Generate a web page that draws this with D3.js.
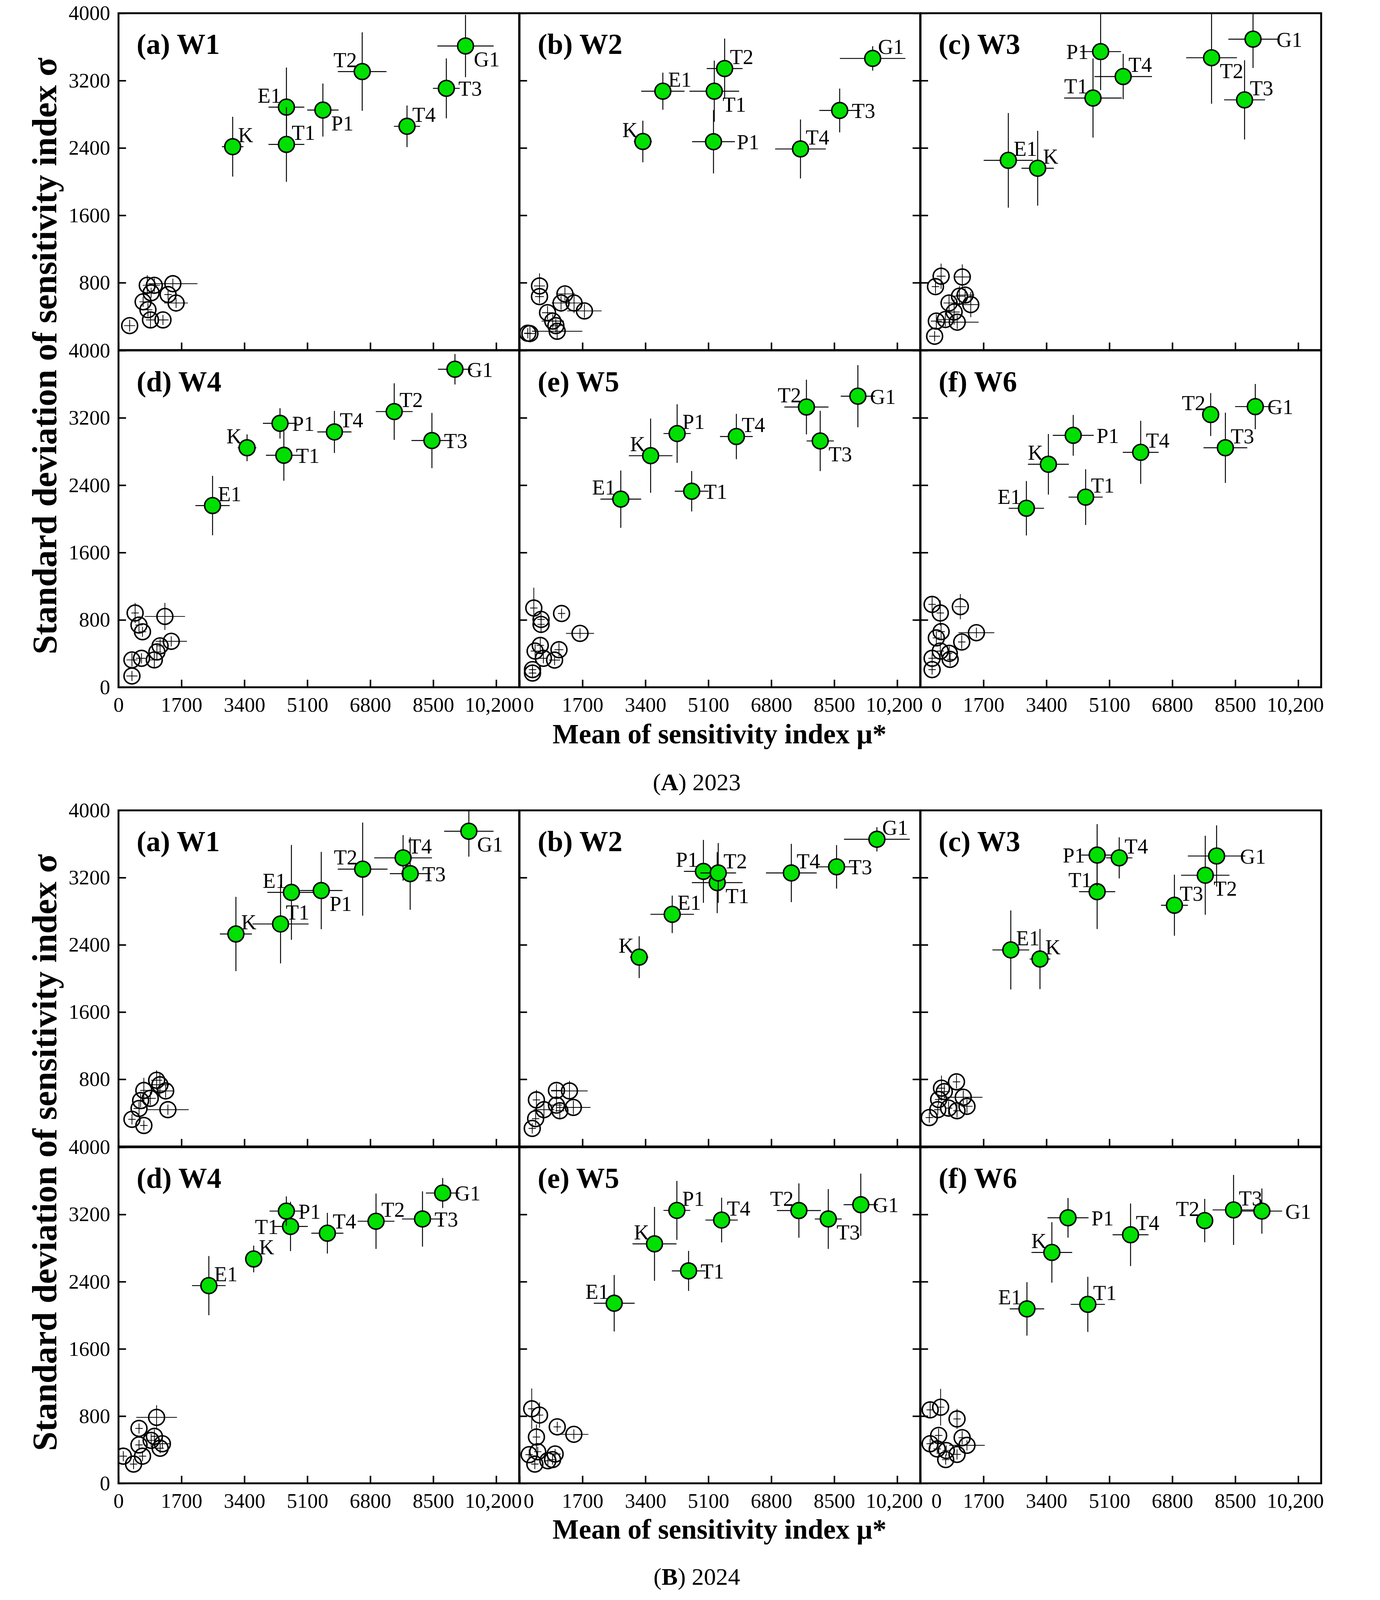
<!DOCTYPE html>
<html>
<head>
<meta charset="utf-8">
<script src="https://cdn.jsdelivr.net/npm/d3@7"></script>
<style>
  html, body { margin: 0; padding: 0; background: #fff; overflow: hidden; }
  svg { display: block; }
  text { font-family: "Liberation Serif", "Times New Roman", serif; }
</style>
</head>
<body>
<div id="chart"></div>
<script>
// factor names, same order in every panel
const factors = ['K', 'E1', 'T1', 'P1', 'T2', 'T3', 'T4', 'G1'];

const xTicks = [0, 1700, 3400, 5100, 6800, 8500, 10200];
const xTickLabels = ['0', '1700', '3400', '5100', '6800', '8500', '10,200'];
const yTicks = [0, 800, 1600, 2400, 3200, 4000];

// [mu*, sigma, mu* error, sigma error] per factor (order of `factors`)
// ---- 2023 ----
const W1_2023 = [[3084, 2415, 290, 355], [4535, 2885, 484, 470], [4535, 2442, 484, 444], [5520, 2850, 423, 315],
                 [6582, 3307, 656, 466], [8854, 3108, 363, 356], [7792, 2657, 354, 247], [9372, 3611, 760, 370]];
const W2_2023 = [[3331, 2477, 245, 247], [3871, 3074, 585, 220], [5260, 3074, 670, 363], [5239, 2474, 578, 376],
                 [5540, 3343, 484, 356], [8647, 2845, 550, 260], [7588, 2388, 684, 350], [9538, 3463, 885, 145]];
const W3_2023 = [[3164, 2159, 438, 444], [2371, 2253, 665, 562], [4658, 2993, 780, 470], [4864, 3544, 550, 457],
                 [7860, 3471, 686, 546], [8751, 2971, 553, 470], [5473, 3248, 777, 269], [8980, 3692, 667, 342]];
const W4_2023 = [[3472, 2844, 250, 159], [2540, 2158, 462, 353], [4466, 2755, 484, 302], [4362, 3134, 462, 180],
                 [7446, 3274, 497, 336], [8465, 2930, 553, 328], [5831, 3032, 462, 250], [9087, 3777, 458, 181]];
const W5_2023 = [[3541, 2750, 589, 441], [2735, 2234, 550, 340], [4650, 2328, 456, 240], [4257, 3013, 368, 348],
                 [7749, 3328, 596, 325], [8121, 2925, 368, 358], [5856, 2978, 442, 269], [9138, 3457, 463, 369]];
const W6_2023 = [[3453, 2648, 553, 360], [2859, 2126, 476, 323], [4459, 2258, 461, 331], [4124, 2992, 553, 242],
                 [7836, 3239, 198, 255], [8233, 2844, 591, 417], [5946, 2790, 484, 374], [9041, 3333, 545, 269]];

// ---- 2024 ----
const W1_2024 = [[3171, 2529, 433, 442], [4670, 3024, 650, 564], [4376, 2648, 758, 469], [5476, 3046, 572, 460],
                 [6594, 3301, 672, 554], [7877, 3247, 550, 430], [7686, 3435, 780, 271], [9462, 3752, 667, 302]];
const W2_2024 = [[3232, 2253, 246, 249], [4124, 2763, 587, 223], [5339, 3140, 685, 363], [4967, 3274, 527, 374],
                 [5367, 3255, 481, 356], [8563, 3328, 545, 259], [7341, 3255, 685, 347], [9652, 3656, 888, 145]];
const W3_2024 = [[3226, 2231, 279, 358], [2438, 2339, 497, 470], [4770, 3032, 489, 444], [4770, 3468, 432, 368],
                 [7690, 3228, 654, 470], [6857, 2871, 363, 363], [5366, 3435, 355, 245], [7996, 3457, 776, 364]];
const W4_2024 = [[3651, 2670, 225, 159], [2440, 2353, 454, 352], [4646, 3057, 467, 293], [4533, 3240, 454, 175],
                 [6955, 3119, 497, 329], [8210, 3146, 554, 329], [5641, 2977, 433, 242], [8755, 3455, 454, 179]];
const W5_2024 = [[3646, 2850, 594, 440], [2557, 2143, 552, 336], [4566, 2528, 453, 238], [4250, 3248, 362, 350],
                 [7545, 3246, 594, 323], [8339, 3146, 365, 356], [5458, 3133, 436, 266], [9217, 3316, 464, 370]];
const W6_2024 = [[3547, 2748, 550, 360], [2874, 2076, 466, 318], [4518, 2130, 462, 328], [3983, 3160, 554, 236],
                 [7675, 3127, 222, 258], [8454, 3254, 566, 417], [5672, 2958, 485, 372], [9219, 3240, 547, 269]];

// non-influential parameters (open circles): [mu*, sigma, mu* error, sigma error]
const W1_2023_other = [[302, 290, 150, 70], [777, 769, 120, 120], [967, 769, 150, 80], [1468, 788, 665, 60],
  [1339, 659, 100, 60], [665, 573, 100, 60], [1555, 559, 320, 60], [795, 479, 120, 80], [864, 358, 120, 100],
  [1201, 358, 150, 60], [881, 680, 100, 60]];
const W2_2023_other = [[540, 761, 150, 150], [540, 635, 120, 80], [1227, 667, 200, 80], [1122, 559, 250, 80],
  [1473, 559, 200, 120], [1753, 465, 465, 80], [757, 444, 150, 80], [898, 344, 300, 80], [982, 290, 150, 80],
  [1017, 223, 680, 100], [281, 196, 150, 100], [224, 200, 100, 60]];
const W3_2023_other = [[556, 877, 120, 150], [1128, 868, 200, 150], [404, 753, 100, 80], [1204, 653, 250, 80],
  [1052, 640, 150, 120], [770, 559, 150, 100], [1357, 540, 200, 150], [907, 452, 150, 150], [671, 363, 200, 80],
  [427, 344, 150, 80], [991, 331, 580, 80], [381, 164, 150, 60]];
const W4_2023_other = [[449, 882, 100, 120], [1253, 841, 544, 161], [553, 739, 100, 80], [648, 659, 100, 60],
  [1425, 546, 423, 60], [1123, 492, 100, 80], [1037, 419, 120, 100], [967, 325, 150, 100], [622, 344, 150, 60],
  [363, 325, 150, 80], [363, 134, 150, 60]];
const W5_2023_other = [[386, 941, 100, 242], [1136, 876, 100, 60], [582, 806, 100, 80], [582, 747, 100, 100],
  [1634, 640, 379, 60], [561, 497, 100, 100], [1066, 446, 120, 80], [421, 430, 120, 80], [645, 344, 120, 60],
  [947, 323, 150, 60], [351, 210, 100, 60], [351, 169, 100, 60]];
const W6_2023_other = [[313, 984, 100, 100], [1075, 957, 150, 150], [534, 882, 100, 150], [556, 661, 100, 100],
  [1509, 648, 484, 60], [427, 586, 100, 80], [1113, 538, 100, 80], [534, 430, 100, 80], [777, 403, 80, 80],
  [800, 331, 80, 80], [313, 344, 100, 60], [313, 210, 100, 60]];

const W1_2024_other = [[1031, 788, 150, 120], [685, 667, 100, 150], [1274, 661, 200, 80], [858, 573, 150, 80],
  [598, 546, 100, 80], [555, 452, 150, 80], [1334, 438, 563, 60], [364, 323, 100, 60], [685, 250, 100, 60],
  [1118, 734, 250, 150]];
const W2_2024_other = [[998, 667, 150, 80], [1349, 661, 492, 120], [457, 554, 100, 120], [660, 438, 280, 80],
  [998, 492, 150, 80], [1089, 425, 120, 100], [1454, 465, 464, 80], [436, 331, 100, 80], [344, 215, 100, 60]];
const W3_2024_other = [[971, 769, 100, 80], [566, 694, 100, 150], [642, 653, 150, 80], [1154, 586, 520, 80],
  [489, 559, 100, 60], [757, 457, 100, 80], [1254, 478, 150, 80], [986, 425, 100, 80], [466, 438, 100, 60],
  [237, 344, 100, 60]];
const W4_2024_other = [[1029, 785, 550, 145], [554, 653, 100, 60], [554, 457, 100, 60], [969, 559, 100, 80],
  [882, 511, 100, 80], [1185, 471, 225, 60], [1125, 417, 100, 60], [649, 323, 100, 60], [130, 323, 100, 60],
  [407, 229, 100, 60]];
const W5_2024_other = [[330, 887, 100, 242], [541, 812, 100, 150], [1019, 672, 100, 60], [1468, 583, 393, 60],
  [457, 551, 100, 150], [492, 376, 100, 60], [260, 341, 100, 60], [962, 349, 150, 60], [766, 269, 100, 60],
  [414, 229, 100, 60], [892, 282, 100, 60]];
const W6_2024_other = [[260, 874, 100, 100], [543, 906, 100, 218], [986, 766, 100, 120], [489, 570, 100, 80],
  [1124, 543, 100, 80], [260, 471, 100, 60], [451, 409, 100, 60], [1254, 452, 480, 60], [696, 390, 100, 60],
  [986, 344, 100, 60], [680, 282, 100, 60]];

// which side of the marker each factor label sits on (order of `factors`)
const W1_2023_lab = ['ne', 'nw', 'ne', 'se', 'nw', 'e', 'ne', 'se'];
const W2_2023_lab = ['nw', 'ne', 'se', 'ee', 'ne', 'e', 'ne', 'ne'];
const W3_2023_lab = ['ne', 'ne', 'nw', 'w', 'se', 'ne', 'ne', 'ee'];
const W4_2023_lab = ['nw', 'ne', 'e', 'e', 'ne', 'e', 'ne', 'e'];
const W5_2023_lab = ['nw', 'nw', 'e', 'ne', 'nw', 'se', 'ne', 'e'];
const W6_2023_lab = ['nw', 'nw', 'ne', 'ee', 'nw', 'ne', 'ne', 'e'];
const W1_2024_lab = ['ne', 'nw', 'ne', 'se', 'nw', 'e', 'ne', 'se'];
const W2_2024_lab = ['nw', 'ne', 'se', 'nw', 'ne', 'e', 'ne', 'ne'];
const W3_2024_lab = ['ne', 'ne', 'nw', 'w', 'se', 'ne', 'ne', 'ee'];
const W4_2024_lab = ['ne', 'ne', 'w', 'e', 'ne', 'e', 'ne', 'e'];
const W5_2024_lab = ['nw', 'nw', 'e', 'ne', 'nw', 'se', 'ne', 'e'];
const W6_2024_lab = ['nw', 'nw', 'ne', 'ee', 'nw', 'ne', 'ne', 'ee'];

// ---------------------------------------------------------------------------
const W = 3533, H = 4237;
const colX = [253, 1315, 2377];
const panelW = 1061;
const xMax = 10820, yMax = 4000;
const green = '#00e000';
const serif = '"Liberation Serif", "Times New Roman", serif';

const labelOffset = {
    ne: [14, -12, 'start'], nw: [-14, -12, 'end'], se: [22, 54, 'start'],
    e: [32, 20, 'start'], ee: [62, 20, 'start'], w: [-32, 20, 'end']
};

const figures = [
    {
        letter: 'A', year: '2023', rowY: [35, 928], ph: 892, xLabelY: 1969, captionY: 2093,
        panels: [
            { title: '(a) W1', main: W1_2023, other: W1_2023_other, lab: W1_2023_lab },
            { title: '(b) W2', main: W2_2023, other: W2_2023_other, lab: W2_2023_lab },
            { title: '(c) W3', main: W3_2023, other: W3_2023_other, lab: W3_2023_lab },
            { title: '(d) W4', main: W4_2023, other: W4_2023_other, lab: W4_2023_lab },
            { title: '(e) W5', main: W5_2023, other: W5_2023_other, lab: W5_2023_lab },
            { title: '(f) W6', main: W6_2023, other: W6_2023_other, lab: W6_2023_lab }
        ]
    },
    {
        letter: 'B', year: '2024', rowY: [2146, 3038], ph: 890, xLabelY: 4075, captionY: 4197,
        panels: [
            { title: '(a) W1', main: W1_2024, other: W1_2024_other, lab: W1_2024_lab },
            { title: '(b) W2', main: W2_2024, other: W2_2024_other, lab: W2_2024_lab },
            { title: '(c) W3', main: W3_2024, other: W3_2024_other, lab: W3_2024_lab },
            { title: '(d) W4', main: W4_2024, other: W4_2024_other, lab: W4_2024_lab },
            { title: '(e) W5', main: W5_2024, other: W5_2024_other, lab: W5_2024_lab },
            { title: '(f) W6', main: W6_2024, other: W6_2024_other, lab: W6_2024_lab }
        ]
    }
];

// the figure is laid out on a 3533 x 4237 canvas and fitted into the viewport
const svg = d3.select('#chart').append('svg')
    .attr('viewBox', `0 0 ${W} ${H}`)
    .attr('preserveAspectRatio', 'xMidYMid meet')
    .style('width', '100vw')
    .style('height', '100vh');

svg.append('rect').attr('width', W).attr('height', H).attr('fill', '#fff');

let clipId = 0;

function styleAxis(g) {
    g.select('.domain').remove();
    g.selectAll('.tick line').attr('stroke', '#000').attr('stroke-width', 4);
    g.selectAll('.tick text')
        .attr('fill', '#000')
        .style('font-family', serif)
        .style('font-size', '55px');
}

function errorBars(g, pts, x, y, width) {
    const bars = g.append('g')
        .attr('stroke', '#000')
        .attr('stroke-width', width);
    pts.forEach(p => {
        bars.append('line')
            .attr('x1', x(p[0] - p[2])).attr('x2', x(p[0] + p[2]))
            .attr('y1', y(p[1])).attr('y2', y(p[1]));
        bars.append('line')
            .attr('x1', x(p[0])).attr('x2', x(p[0]))
            .attr('y1', y(p[1] - p[3])).attr('y2', y(p[1] + p[3]));
    });
}

function drawPanel(spec, col, row, fig) {
    const x0 = colX[col];
    const y0 = fig.rowY[row];
    const ph = fig.ph;
    const x = d3.scaleLinear().domain([0, xMax]).range([x0, x0 + panelW]);
    const y = d3.scaleLinear().domain([0, yMax]).range([y0 + ph, y0]);

    const id = 'clip' + (clipId++);
    svg.append('clipPath').attr('id', id)
        .append('rect').attr('x', x0).attr('y', y0).attr('width', panelW).attr('height', ph);

    const g = svg.append('g');
    const plot = g.append('g').attr('clip-path', `url(#${id})`);

    // open circles (insignificant parameters): hollow, bars visible inside
    const others = plot.append('g');
    others.selectAll('circle')
        .data(spec.other)
        .join('circle')
        .attr('cx', d => x(d[0]))
        .attr('cy', d => y(d[1]))
        .attr('r', 21)
        .attr('fill', 'none')
        .attr('stroke', '#000')
        .attr('stroke-width', 4);
    errorBars(others, spec.other, x, y, 2);

    // main factors: each point's bars drawn then its marker
    spec.main.forEach(p => {
        errorBars(plot, [p], x, y, 2.5);
        plot.append('circle')
            .attr('cx', x(p[0]))
            .attr('cy', y(p[1]))
            .attr('r', 21)
            .attr('fill', green)
            .attr('stroke', '#000')
            .attr('stroke-width', 4);
    });

    // factor labels
    spec.main.forEach((p, i) => {
        const off = labelOffset[spec.lab[i]];
        g.append('text')
            .attr('x', x(p[0]) + off[0])
            .attr('y', y(p[1]) + off[1])
            .attr('text-anchor', off[2])
            .style('font-size', '56px')
            .text(factors[i]);
    });

    // panel title
    g.append('text')
        .attr('x', x0 + 48)
        .attr('y', y0 + 108)
        .style('font-size', '76px')
        .style('font-weight', 'bold')
        .text(spec.title);

    // x axis ticks (inward, bottom)
    const xAxis = d3.axisBottom(x)
        .tickValues(xTicks)
        .tickSizeInner(-20)
        .tickSizeOuter(0)
        .tickPadding(26)
        .tickFormat((d, i) => row === 1 ? xTickLabels[i] : '');
    const gx = g.append('g')
        .attr('transform', `translate(0,${y0 + ph})`)
        .call(xAxis)
        .call(styleAxis);
    if (row === 1) {
        // keep "0" and "10,200" of neighbouring panels apart
        gx.selectAll('.tick text').filter((d, i) => i === xTicks.length - 1).attr('dx', -8);
        if (col > 0) {
            gx.selectAll('.tick text').filter((d, i) => i === 0)
                .attr('dx', col === 1 ? 24 : 42);
        }
    }

    // y axis ticks (inward, left)
    const yVals = row === 0 ? yTicks.slice(1) : yTicks;
    const yAxis = d3.axisLeft(y)
        .tickValues(yVals)
        .tickSizeInner(-20)
        .tickSizeOuter(0)
        .tickPadding(22)
        .tickFormat(d => col === 0 ? String(d) : '');
    g.append('g')
        .attr('transform', `translate(${x0},0)`)
        .call(yAxis)
        .call(styleAxis);

    if (col === 1) {
        const yRight = d3.axisRight(y)
            .tickValues(yTicks)
            .tickSizeInner(-20)
            .tickSizeOuter(0)
            .tickFormat('');
        g.append('g')
            .attr('transform', `translate(${x0 + panelW},0)`)
            .call(yRight)
            .call(styleAxis);
    }

    // frame
    g.append('rect')
        .attr('x', x0).attr('y', y0)
        .attr('width', panelW).attr('height', ph)
        .attr('fill', 'none')
        .attr('stroke', '#000')
        .attr('stroke-width', 5);
}

figures.forEach(fig => {
    fig.panels.forEach((spec, i) => drawPanel(spec, i % 3, Math.floor(i / 3), fig));

    const top = fig.rowY[0];
    const bottom = fig.rowY[1] + fig.ph;
    const midX = colX[0] + panelW * 1.5;

    svg.append('text')
        .attr('transform', `translate(88,${(top + bottom) / 2 + 15}) rotate(-90)`)
        .attr('text-anchor', 'middle')
        .style('font-size', '92px')
        .style('font-weight', 'bold')
        .text('Standard deviation of sensitivity index σ');

    svg.append('text')
        .attr('x', midX)
        .attr('y', fig.xLabelY)
        .attr('text-anchor', 'middle')
        .style('font-size', '74px')
        .style('font-weight', 'bold')
        .text('Mean of sensitivity index μ*');

    const cap = svg.append('text')
        .attr('x', midX - 60)
        .attr('y', fig.captionY)
        .attr('text-anchor', 'middle')
        .style('font-size', '64px');
    cap.append('tspan').text('(');
    cap.append('tspan').style('font-weight', 'bold').text(fig.letter);
    cap.append('tspan').text(') ' + fig.year);
});
</script>
</body>
</html>
